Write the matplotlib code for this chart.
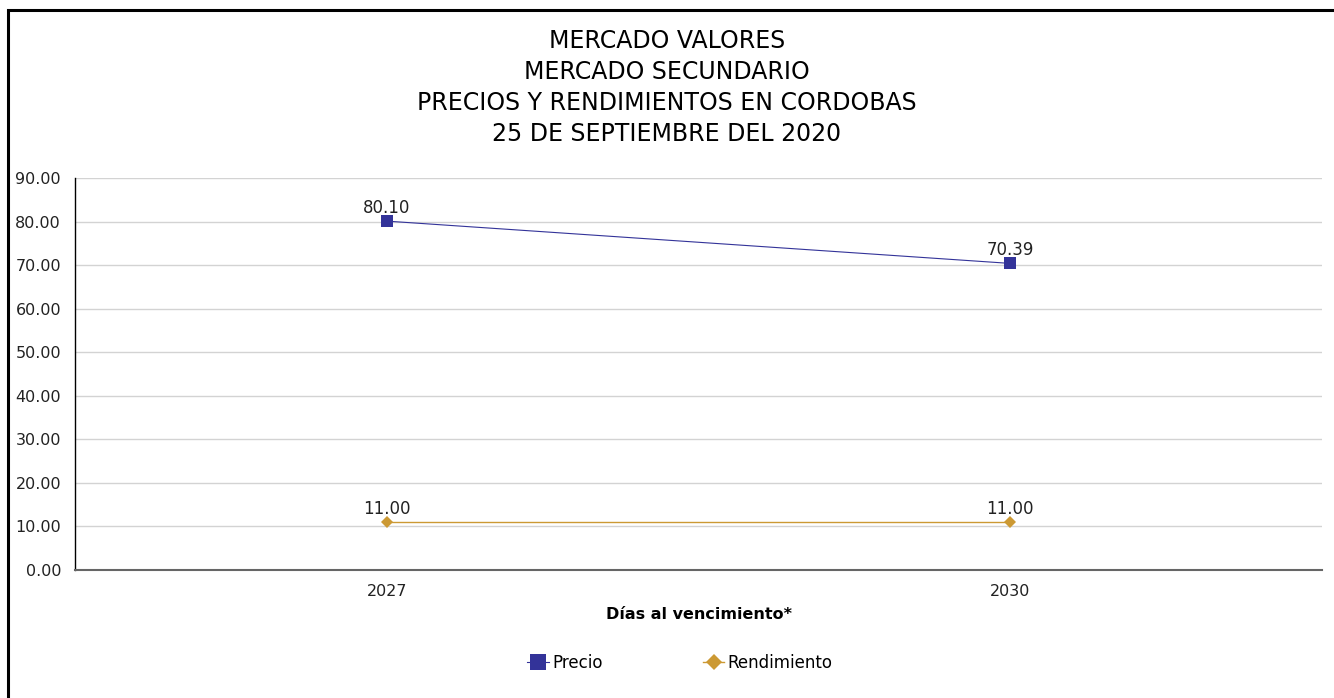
import matplotlib
matplotlib.use("Agg")
import matplotlib.pyplot as plt
from matplotlib.patches import Rectangle
from matplotlib.lines import Line2D

plt.rcParams['font.family'] = ['DejaVu Sans']

categories = ["2027", "2030"]
precio = [80.10, 70.39]
rendimiento = [11.00, 11.00]
yticks = [0, 10, 20, 30, 40, 50, 60, 70, 80, 90]
title_lines = ["MERCADO VALORES", "MERCADO SECUNDARIO",
               "PRECIOS Y RENDIMIENTOS EN CORDOBAS", "25 DE SEPTIEMBRE DEL 2020"]

W, H = 1334, 698
fig = plt.figure(figsize=(W / 100, H / 100), dpi=100)
fig.patch.set_facecolor("white")

# outer border
fig.add_artist(Rectangle((7.5 / W, -0.05), 1.2, (H - 9.5) / H + 0.05,
                         transform=fig.transFigure, fill=False,
                         edgecolor="black", linewidth=2.2, clip_on=False))

ax = fig.add_axes([75 / W, 1 - 570 / H, (1322 - 75) / W, (570 - 178) / H])
x = list(range(len(categories)))

c_p = "#333399"
c_r = "#CC9933"

ax.plot(x, precio, color=c_p, linewidth=0.8, marker="s", markersize=8,
        markeredgewidth=0, zorder=3)
ax.plot(x, rendimiento, color=c_r, linewidth=1.0, marker="D", markersize=6,
        markeredgewidth=0, zorder=3)

for xi, v in zip(x, precio):
    ax.annotate(f"{v:.2f}", (xi, v), xytext=(0, 3), textcoords="offset points",
                ha="center", va="bottom", fontsize=12, color="#222222")
for xi, v in zip(x, rendimiento):
    ax.annotate(f"{v:.2f}", (xi, v), xytext=(0, 3), textcoords="offset points",
                ha="center", va="bottom", fontsize=12, color="#222222")

ax.set_xlim(-0.5, len(categories) - 0.5)
ax.set_ylim(0, 90)
ax.set_yticks(yticks)
ax.set_yticklabels([f"{t:.2f}" for t in yticks], fontsize=11.5, color="#222222")
ax.set_xticks(x)
ax.set_xticklabels(categories, fontsize=11.5, color="#222222")
ax.tick_params(axis="both", length=0)
ax.tick_params(axis="y", pad=10)
ax.tick_params(axis="x", pad=10)
ax.grid(axis="y", color="#d3d3d3", linewidth=1)
ax.set_axisbelow(True)
for s in ["top", "right"]:
    ax.spines[s].set_visible(False)
ax.spines["left"].set_color("black")
ax.spines["left"].set_linewidth(1)
ax.spines["bottom"].set_color("#666666")
ax.spines["bottom"].set_linewidth(1.5)

ax.set_xlabel("Días al vencimiento*", fontsize=11.5, fontweight="bold",
              labelpad=6)

for i, line in enumerate(title_lines):
    fig.text(667 / W, 1 - (41 + 31 * i) / H, line, ha="center", va="center",
             fontsize=17, color="black")

handles = [Line2D([], [], color=c_p, marker="s", markersize=11, linewidth=0.8,
                  markeredgewidth=0),
           Line2D([], [], color=c_r, marker="D", markersize=8, linewidth=1.0,
                  markeredgewidth=0)]
fig.legend(handles, ["Precio", "Rendimiento"], loc="center",
           bbox_to_anchor=(680 / W, 1 - 663 / H), ncol=2, frameon=False,
           fontsize=12, handlelength=1.3, handletextpad=0.2, columnspacing=6)

fig.savefig("out.png", dpi=100)
